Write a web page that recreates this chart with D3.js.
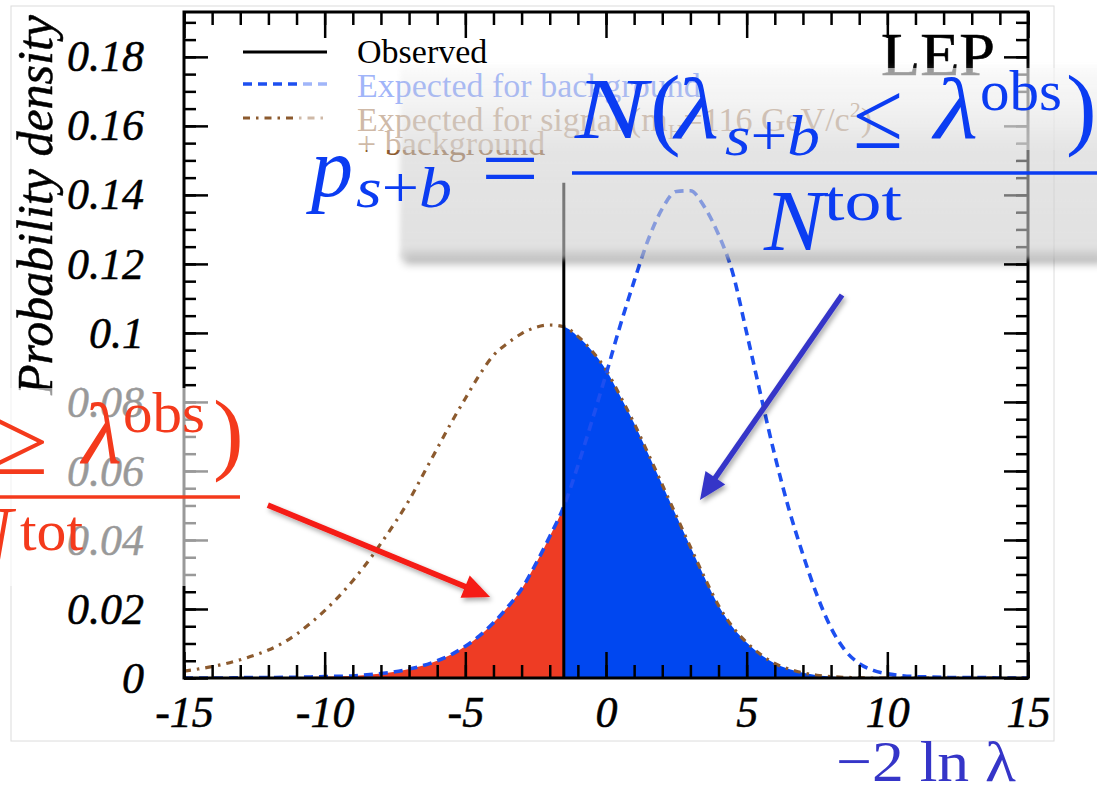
<!DOCTYPE html>
<html>
<head>
<meta charset="utf-8">
<script src="https://cdn.jsdelivr.net/npm/d3@7"></script>
<style>
  html, body { margin: 0; padding: 0; background: #fff; }
  svg { display: block; }
</style>
</head>
<body>
<svg id="chart" width="1097" height="789"></svg>
<script>
// ---- data: test-statistic distributions (-2 ln lambda) ----
const xGrid = [-15, -14.5, -14, -13.5, -13, -12.5, -12, -11.5, -11, -10.5, -10, -9.5, -9, -8.5, -8, -7.5,
  -7, -6.5, -6, -5.5, -5, -4.5, -4, -3.5, -3, -2.5, -2, -1.5, -1, -0.5, 0, 0.5, 1, 1.5, 2, 2.5, 3, 3.5,
  4, 4.5, 5, 5.5, 6, 6.5, 7, 7.5, 8, 8.5, 9, 9.5, 10, 10.5, 11, 11.5, 12, 12.5, 13, 13.5, 14, 14.5, 15];

// expected for background only
const bkgDensity = [0.0000, 0.0000, 0.0000, 0.0000, 0.0001, 0.0001, 0.0001, 0.0002, 0.0002, 0.0003,
  0.0004, 0.0005, 0.0006, 0.0009, 0.0013, 0.0018, 0.0026, 0.0036, 0.0050, 0.0068, 0.0092, 0.0122,
  0.0160, 0.0205, 0.0258, 0.0330, 0.0410, 0.0497, 0.0615, 0.0745, 0.0880, 0.1020, 0.1150, 0.1270,
  0.1360, 0.1410, 0.1412, 0.1365, 0.1285, 0.1175, 0.1000, 0.0820, 0.0645, 0.0490, 0.0358, 0.0240,
  0.0145, 0.0080, 0.0042, 0.0022, 0.0012, 0.0007, 0.0004, 0.0003, 0.0002, 0.0001, 0.0001, 0.0001,
  0.0000, 0.0000, 0.0000];

// expected for signal (mH = 116 GeV/c2) + background
const sbDensity = [0.0020, 0.0026, 0.0033, 0.0042, 0.0053, 0.0066, 0.0081, 0.0101, 0.0127, 0.0159,
  0.0195, 0.0236, 0.0282, 0.0333, 0.0390, 0.0450, 0.0515, 0.0590, 0.0665, 0.0740, 0.0810, 0.0878,
  0.0935, 0.0970, 0.0998, 0.1016, 0.1023, 0.1018, 0.0990, 0.0948, 0.0893, 0.0818, 0.0738, 0.0650,
  0.0560, 0.0470, 0.0380, 0.0292, 0.0210, 0.0148, 0.0103, 0.0068, 0.0042, 0.0026, 0.0015, 0.0008,
  0.0004, 0.0002, 0.0001, 0.0000, 0.0000, 0.0000, 0.0000, 0.0000, 0.0000, 0.0000, 0.0000, 0.0000,
  0.0000, 0.0000, 0.0000];

const observedX = -1.5;
const observedTop = 0.1435;

const xTickLabels = [-15, -10, -5, 0, 5, 10, 15];
const yTickLabels = [0, 0.02, 0.04, 0.06, 0.08, 0.1, 0.12, 0.14, 0.16, 0.18];

const legendLabels = ["Observed", "Expected for background", "Expected for signal", "+ background"];

// annotation arrows, in data coordinates [x, density]
const redArrow = { from: [-12.02, 0.0501], to: [-4.12, 0.0235] };
const blueArrow = { from: [8.39, 0.1110], to: [3.34, 0.0516] };

// ---- colours ----
const C = {
  bkgLine: "#1d4ff0",
  sbLine: "#8c5a2e",
  redFill: "#ee3c24",
  blueFill: "#0047f0",
  formulaBlue: "#0b3cf2",
  formulaRed: "#f43a1c",
  arrowBlue: "#3535c8",
  arrowRed: "#f51a14"
};

const svg = d3.select("#chart");
const x = d3.scaleLinear().domain([-15, 15]).range([184, 1028]);
const y = d3.scaleLinear().domain([0, 0.193]).range([678, 12]);

const serif = "'Liberation Serif', 'Times New Roman', serif";

// ---- defs ----
const defs = svg.append("defs");
defs.append("clipPath").attr("id", "plotClip").append("rect")
  .attr("x", x(-15)).attr("y", y(0.193)).attr("width", x(15) - x(-15)).attr("height", y(0) - y(0.193));
defs.append("clipPath").attr("id", "leftObs").append("rect")
  .attr("x", x(-15)).attr("y", y(0.193)).attr("width", x(observedX) - x(-15)).attr("height", y(0) - y(0.193));
defs.append("clipPath").attr("id", "rightObs").append("rect")
  .attr("x", x(observedX)).attr("y", y(0.193)).attr("width", x(15) - x(observedX)).attr("height", y(0) - y(0.193));

const grad = defs.append("linearGradient").attr("id", "boxFill")
  .attr("gradientUnits", "userSpaceOnUse").attr("x1", 0).attr("y1", 66).attr("x2", 0).attr("y2", 262);
[[0, 0.1], [0.22, 0.28], [0.43, 0.55], [1, 0.62]].forEach(([o, a]) =>
  grad.append("stop").attr("offset", o).attr("stop-color", "#cfcfcf").attr("stop-opacity", a));

const soft = defs.append("filter").attr("id", "soft").attr("x", "-5%").attr("y", "-20%").attr("width", "110%").attr("height", "140%");
soft.append("feGaussianBlur").attr("stdDeviation", 2.5);
const shadowBlur = defs.append("filter").attr("id", "shadowBlur").attr("x", "-5%").attr("y", "-100%").attr("width", "110%").attr("height", "300%");
shadowBlur.append("feGaussianBlur").attr("stdDeviation", 4);
const arrowShadow = defs.append("filter").attr("id", "arrowShadow").attr("x", "-20%").attr("y", "-20%").attr("width", "140%").attr("height", "140%");
arrowShadow.append("feDropShadow").attr("dx", 2).attr("dy", 3).attr("stdDeviation", 2.5)
  .attr("flood-color", "#000").attr("flood-opacity", 0.35);

// ---- outer frame of the figure ----
svg.append("rect").attr("x", 11).attr("y", 6).attr("width", 1043).attr("height", 735)
  .attr("fill", "none").attr("stroke", "#dcdcdc").attr("stroke-width", 1);

// ---- curves ----
const bkgPts = xGrid.map((v, i) => ({ x: v, y: bkgDensity[i] }));
const sbPts = xGrid.map((v, i) => ({ x: v, y: sbDensity[i] }));

const area = d3.area().x(d => x(d.x)).y0(y(0)).y1(d => y(d.y)).curve(d3.curveMonotoneX);
const line = d3.line().x(d => x(d.x)).y(d => y(d.y)).curve(d3.curveMonotoneX);

// 1 - CL_b region (background, left of observed) and CL_s+b region (signal+background, right of observed)
svg.append("path").datum(bkgPts).attr("d", area).attr("fill", C.redFill).attr("clip-path", "url(#leftObs)");
svg.append("path").datum(sbPts).attr("d", area).attr("fill", C.blueFill).attr("clip-path", "url(#rightObs)");

const curves = svg.append("g").attr("clip-path", "url(#plotClip)");
curves.append("path").datum(sbPts).attr("d", line).attr("fill", "none")
  .attr("stroke", C.sbLine).attr("stroke-width", 3.2).attr("stroke-dasharray", "7,6,2.5,6");
curves.append("path").datum(bkgPts).attr("d", line).attr("fill", "none")
  .attr("stroke", C.bkgLine).attr("stroke-width", 3.6).attr("stroke-dasharray", "9,6");

// observed value
svg.append("line")
  .attr("x1", x(observedX)).attr("x2", x(observedX))
  .attr("y1", y(0)).attr("y2", y(observedTop))
  .attr("stroke", "#000").attr("stroke-width", 3);

// ---- axes (ticks pointing inward on all four sides) ----
function styleAxis(g) {
  g.select(".domain").remove();
  g.selectAll(".tick line").attr("stroke", "#000").attr("stroke-width", 2.5);
}
const xMinor = d3.range(-15, 15.01, 1);
const yMinor = d3.range(0, 0.1901, 0.005);

svg.append("g").attr("transform", `translate(0,${y(0)})`)
  .call(d3.axisBottom(x).tickValues(xMinor).tickSize(-13).tickFormat("")).call(styleAxis);
const xAxisG = svg.append("g").attr("transform", `translate(0,${y(0)})`)
  .call(d3.axisBottom(x).tickValues(xTickLabels).tickSize(-26).tickPadding(18).tickFormat(d => String(d)))
  .call(styleAxis);

svg.append("g").attr("transform", `translate(0,${y(0.193)})`)
  .call(d3.axisTop(x).tickValues(xMinor).tickSize(-13).tickFormat("")).call(styleAxis);
svg.append("g").attr("transform", `translate(0,${y(0.193)})`)
  .call(d3.axisTop(x).tickValues(xTickLabels).tickSize(-26).tickFormat("")).call(styleAxis);

svg.append("g").attr("transform", `translate(${x(-15)},0)`)
  .call(d3.axisLeft(y).tickValues(yMinor).tickSize(-12).tickFormat("")).call(styleAxis);
const yAxisG = svg.append("g").attr("transform", `translate(${x(-15)},0)`)
  .call(d3.axisLeft(y).tickValues(yTickLabels).tickSize(-24).tickPadding(40)
    .tickFormat(d => String(+d.toFixed(2))))
  .call(styleAxis);

svg.append("g").attr("transform", `translate(${x(15)},0)`)
  .call(d3.axisRight(y).tickValues(yMinor).tickSize(-12).tickFormat("")).call(styleAxis);
svg.append("g").attr("transform", `translate(${x(15)},0)`)
  .call(d3.axisRight(y).tickValues(yTickLabels).tickSize(-24).tickFormat("")).call(styleAxis);

[xAxisG, yAxisG].forEach(g => g.selectAll(".tick text")
  .attr("font-family", null)
  .attr("fill", "#000").attr("stroke", "#000").attr("stroke-width", 0.5)
  .style("font-family", serif).style("font-style", "italic").style("font-size", "44px"));

// frame
svg.append("rect")
  .attr("x", x(-15)).attr("y", y(0.193)).attr("width", x(15) - x(-15)).attr("height", y(0) - y(0.193))
  .attr("fill", "none").attr("stroke", "#000").attr("stroke-width", 3);

// y title
svg.append("text")
  .attr("transform", `translate(52,205) rotate(-90)`)
  .attr("text-anchor", "middle")
  .attr("fill", "#000").attr("stroke", "#000").attr("stroke-width", 0.5)
  .style("font-family", serif).style("font-style", "italic").style("font-size", "50px")
  .text("Probability density");

// ---- legend ----
const lg = svg.append("g");
lg.append("line").attr("x1", 243).attr("x2", 327).attr("y1", 52).attr("y2", 52)
  .attr("stroke", "#000").attr("stroke-width", 3);
lg.append("line").attr("x1", 243).attr("x2", 327).attr("y1", 84).attr("y2", 84)
  .attr("stroke", C.bkgLine).attr("stroke-width", 3.6).attr("stroke-dasharray", "9,6");
lg.append("line").attr("x1", 243).attr("x2", 327).attr("y1", 118).attr("y2", 118)
  .attr("stroke", C.sbLine).attr("stroke-width", 3.2).attr("stroke-dasharray", "7,6,2.5,6");

const legendText = (yy, col) => lg.append("text").attr("x", 357).attr("y", yy).attr("fill", col)
  .style("font-family", serif).style("font-size", "34px");
legendText(63, "#000").text(legendLabels[0]);
legendText(97, C.bkgLine).text(legendLabels[1]);
const sigT = legendText(131, C.sbLine);
sigT.append("tspan").text(legendLabels[2] + " (m");
sigT.append("tspan").attr("dy", 8).style("font-size", "22px").text("H");
sigT.append("tspan").attr("dy", -8).text("=116 GeV/c");
sigT.append("tspan").attr("dy", -14).style("font-size", "22px").text("2");
sigT.append("tspan").attr("dy", 14).text(")");
legendText(155, C.sbLine).text(legendLabels[3]);

svg.append("text").attr("x", 881).attr("y", 75).attr("fill", "#000")
  .attr("stroke", "#000").attr("stroke-width", 0.6)
  .attr("textLength", 114).attr("lengthAdjust", "spacingAndGlyphs")
  .style("font-family", serif).style("font-size", "62px").text("LEP");

// ---- translucent panel behind the p_{s+b} formula ----
svg.append("rect").attr("x", 298).attr("y", 68).attr("width", 800).attr("height", 82)
  .attr("fill", "#fff").attr("opacity", 0.58);
svg.append("rect").attr("x", 404).attr("y", 252).attr("width", 700).attr("height", 12)
  .attr("fill", "#000").attr("opacity", 0.28).attr("filter", "url(#shadowBlur)");
svg.append("rect").attr("x", 400).attr("y", 66).attr("width", 705).attr("height", 193)
  .attr("fill", "url(#boxFill)").attr("filter", "url(#soft)");

// ---- p_{s+b} formula ----
const fb = svg.append("g").attr("fill", C.formulaBlue).style("font-family", serif);
function piece(g, tx, ty, size, str, opts = {}) {
  const t = g.append("text").attr("x", tx).attr("y", ty).style("font-size", size + "px");
  if (opts.italic) t.style("font-style", "italic");
  if (opts.anchor) t.attr("text-anchor", opts.anchor);
  if (opts.len) t.attr("textLength", opts.len).attr("lengthAdjust", "spacingAndGlyphs");
  if (Array.isArray(str)) {
    str.forEach(([s, it]) => t.append("tspan").style("font-style", it ? "italic" : "normal").text(s));
  } else t.text(str);
  return t;
}
piece(fb, 311, 196, 84, "p", { italic: true, len: 42 });
piece(fb, 356, 207, 58, [["s", 1], ["+", 0], ["b", 1]], { len: 96 });
piece(fb, 481, 197, 84, "=", { len: 58 });
fb.append("line").attr("x1", 572).attr("x2", 1100).attr("y1", 173).attr("y2", 173)
  .attr("stroke", C.formulaBlue).attr("stroke-width", 3.5);
piece(fb, 575, 138, 86, "N", { italic: true, len: 72 });
piece(fb, 650, 138, 92, "(");
piece(fb, 675, 138, 86, "λ", { italic: true, len: 44 });
piece(fb, 725, 155, 58, [["s", 1], ["+", 0], ["b", 1]], { len: 95 });
piece(fb, 853, 148, 96, "≤", { len: 50 });
piece(fb, 934, 138, 86, "λ", { italic: true, len: 44 });
piece(fb, 980, 110, 58, "obs", { len: 82 });
piece(fb, 1066, 138, 92, ")");
piece(fb, 764, 250, 86, "N", { italic: true, len: 60 });
piece(fb, 824, 220, 58, "tot", { len: 78 });

// ---- translucent panel behind the left formula ----
svg.append("rect").attr("x", 0).attr("y", 388).attr("width", 245).attr("height", 198)
  .attr("fill", "#fff").attr("opacity", 0.6);

const fr = svg.append("g").attr("fill", C.formulaRed).style("font-family", serif);
piece(fr, 48, 474, 96, "≥", { anchor: "end" });
piece(fr, 82, 463, 86, "λ", { italic: true, len: 40 });
piece(fr, 123, 432, 58, "obs", { len: 82 });
piece(fr, 213, 463, 92, ")");
fr.append("line").attr("x1", 0).attr("x2", 240).attr("y1", 497).attr("y2", 497)
  .attr("stroke", C.formulaRed).attr("stroke-width", 3.5);
piece(fr, 12, 566, 86, "N", { italic: true, anchor: "end" });
piece(fr, 20, 550, 58, "tot", { len: 63 });

// ---- arrows ----
function arrow(spec, color) {
  const p0 = [x(spec.from[0]), y(spec.from[1])];
  const p1 = [x(spec.to[0]), y(spec.to[1])];
  const dx = p1[0] - p0[0], dy = p1[1] - p0[1];
  const L = Math.hypot(dx, dy), ux = dx / L, uy = dy / L;
  const head = 27, half = 12;
  const bx = p1[0] - ux * head, by = p1[1] - uy * head;
  const g = svg.append("g").attr("filter", "url(#arrowShadow)");
  g.append("line").attr("x1", p0[0]).attr("y1", p0[1]).attr("x2", bx + ux * 2).attr("y2", by + uy * 2)
    .attr("stroke", color).attr("stroke-width", 5.5);
  g.append("polygon")
    .attr("points", [[p1[0], p1[1]], [bx - uy * half, by + ux * half], [bx + uy * half, by - ux * half]].map(p => p.join(",")).join(" "))
    .attr("fill", color);
}
arrow(redArrow, C.arrowRed);
arrow(blueArrow, C.arrowBlue);

// ---- axis label ----
svg.append("text").attr("x", 836).attr("y", 781).attr("fill", C.arrowBlue)
  .attr("textLength", 180).attr("lengthAdjust", "spacingAndGlyphs")
  .style("font-family", serif).style("font-size", "58px")
  .text("−2 ln λ");
</script>
</body>
</html>
